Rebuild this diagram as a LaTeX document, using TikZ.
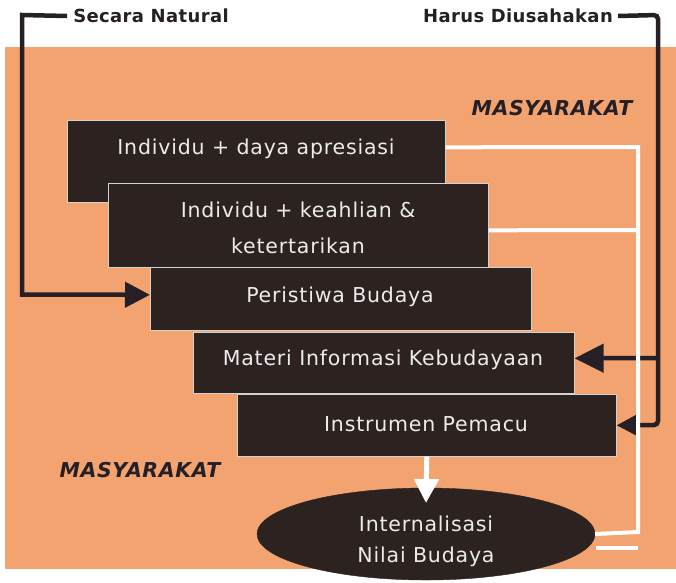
\documentclass[tikz,border=0pt]{standalone}
\usepackage{fontspec}
\usetikzlibrary{shapes.geometric,arrows.meta}
\newfontfamily\boxfont[LetterSpace=4]{DejaVu Sans}
\newfontfamily\labfont[LetterSpace=2]{DejaVu Sans}
\newfontfamily\masfont[LetterSpace=3]{DejaVu Sans}
\definecolor{bg}{RGB}{242,163,112}
\definecolor{boxc}{RGB}{44,34,32}
\definecolor{ink}{RGB}{38,32,38}
\definecolor{txt}{RGB}{236,236,236}
\tikzset{
  boxst/.style={fill=boxc, draw=white!65!gray, line width=0.6pt, inner sep=0pt, anchor=north west},
  boxtxt/.style={text=txt, font=\boxfont\fontsize{20.5}{24}\selectfont, inner sep=0pt, align=center},
  lab/.style={text=ink, font=\labfont\bfseries\fontsize{18}{22}\selectfont, inner sep=0pt},
  mas/.style={text=ink, font=\masfont\bfseries\itshape\fontsize{20.5}{24}\selectfont, inner sep=0pt},
  darkline/.style={draw=ink, line width=4.5pt},
  whiteline/.style={draw=white, line width=4pt},
}
\begin{document}
\begin{tikzpicture}[x=1pt,y=-1pt]
\useasboundingbox (0,0) rectangle (676,582);
\fill[bg] (5,47) rectangle (676,569);

% top labels
\node[lab] (nat) at (151,16) {Secara Natural};
\node[lab] (har) at (518,16) {Harus Diusahakan};

% boxes
\node[boxst, minimum width=378pt, minimum height=82pt] (b1) at (67,120) {};
\node[boxst, minimum width=380pt, minimum height=84pt] (b2) at (108,183) {};
\node[boxst, minimum width=381pt, minimum height=63pt] (b3) at (150,267) {};
\node[boxst, minimum width=381pt, minimum height=61pt] (b4) at (193,332) {};
\node[boxst, minimum width=379pt, minimum height=62pt] (b5) at (237,394) {};

% dark connectors
\draw[darkline, -{Triangle[length=25pt,width=25pt]}]
  ([xshift=-6pt]nat.west) -- (22,15) -- (22,294.5) -- ([yshift=4pt]b3.west);
\draw[darkline, rounded corners=4pt, -{Triangle[length=22pt,width=22pt]}]
  ([xshift=5pt]har.east) -- (658,15) -- (658,425) -- (b5.east);
\draw[darkline, -{Triangle[length=29pt,width=28pt]}]
  (658,358) -- ([yshift=4.5pt]b4.east);

% white connectors
\node[draw=boxc, fill=boxc, ellipse, minimum width=338pt, minimum height=92pt, inner sep=0pt] (el) at (426,534) {};
\draw[whiteline] ([yshift=14pt]b1.east) -- (638,147) -- (638,532) -- (el.east);
\draw[whiteline] ([yshift=-5pt]b2.east) -- (638,230);
\coordinate (wa) at (596,548);
\coordinate (wb) at (638,548);
\draw[whiteline] (wa) -- (wb);
\coordinate (tipw) at (426,503);
\draw[white, line width=5pt, -{Triangle[length=24pt,width=24pt]}] (b5.south) -- (tipw);

% box texts
\node[boxtxt] (t1) at (256,149) {Individu + daya apresiasi};
\node[boxtxt, font=\boxfont\fontsize{20.5}{36}\selectfont] (t2) at (298,228) {Individu + keahlian \&\\ketertarikan};
\node[boxtxt] (t3) at (340,297) {Peristiwa Budaya};
\node[boxtxt] (t4) at (383,360) {Materi Informasi Kebudayaan};
\node[boxtxt] (t5) at (426,424) {Instrumen Pemacu};
\node[boxtxt, font=\boxfont\fontsize{20.5}{31}\selectfont] (t6) at (426,541) {Internalisasi\\Nilai Budaya};

% MASYARAKAT labels
\node[mas] (m1) at (552,108) {MASYARAKAT};
\node[mas] (m2) at (140,470) {MASYARAKAT};
\end{tikzpicture}
\end{document}
